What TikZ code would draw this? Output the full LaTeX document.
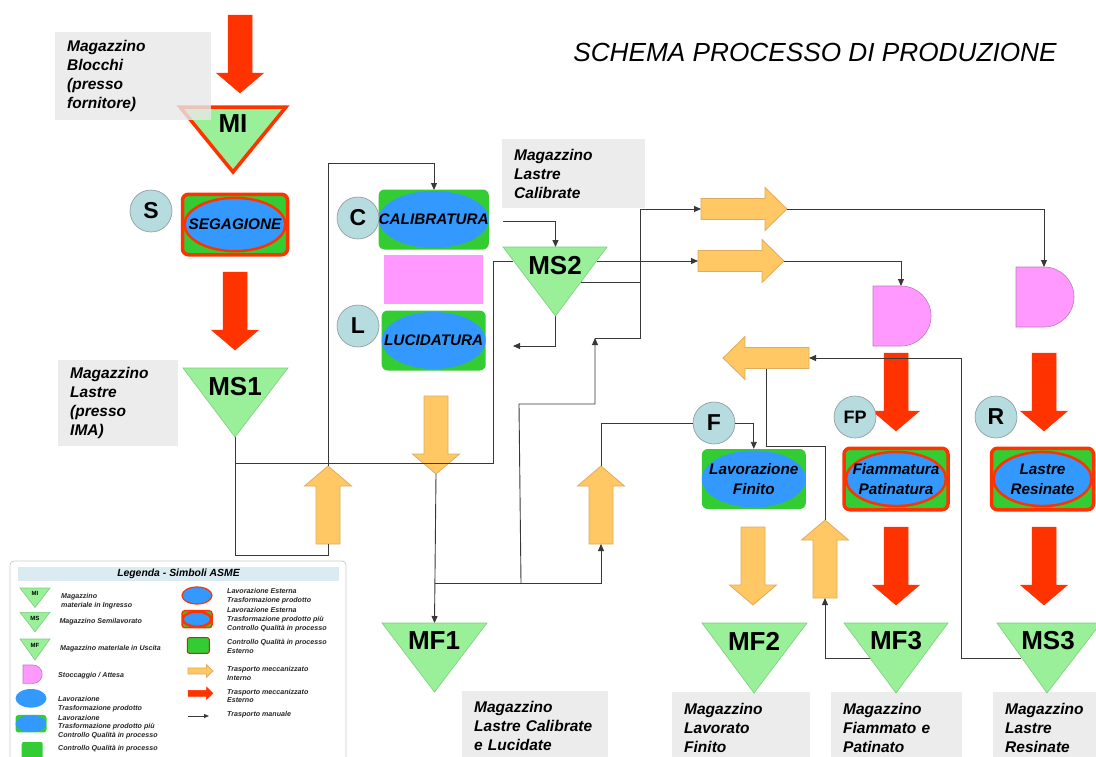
\documentclass[tikz,border=0pt]{standalone}
\usepackage{fontspec}
\setmainfont{Liberation Sans}
\usetikzlibrary{arrows.meta,calc}
\definecolor{extred}{RGB}{255,51,0}
\definecolor{qcgreen}{RGB}{51,204,51}
\definecolor{procblue}{RGB}{51,153,255}
\definecolor{trigreen}{RGB}{153,240,153}
\definecolor{triedge}{RGB}{125,205,125}
\definecolor{stockpink}{RGB}{255,153,255}
\definecolor{stockedge}{RGB}{190,120,190}
\definecolor{intorange}{RGB}{255,200,100}
\definecolor{intedge}{RGB}{222,172,92}
\definecolor{circfill}{RGB}{182,220,224}
\definecolor{circedge}{RGB}{140,150,152}
\definecolor{lblgray}{RGB}{232,232,232}
\definecolor{legbar}{RGB}{218,236,242}
\newcommand{\lblfont}{\fontsize{15.5}{19}\selectfont\bfseries\itshape}
\newcommand{\procfont}{\fontsize{15.3}{20}\selectfont\bfseries\itshape}
\newcommand{\trifont}{\fontsize{26}{28}\selectfont\bfseries}
\newcommand{\circfont}{\fontsize{23}{25}\selectfont\bfseries}
\newcommand{\legfont}{\fontsize{7.1}{8.7}\selectfont\bfseries\itshape}

% block arrows for the mechanised transports
\tikzset{
  vblock/.pic={
    \filldraw[pic actions] (-12,0) -- (12,0) -- (12,58) -- (23.5,58) -- (0,78) -- (-23.5,58) -- (-12,58) -- cycle;
    \coordinate (-tail) at (0,0);
    \coordinate (-tip) at (0,78);
  },
  hblock/.pic={
    \filldraw[pic actions] (0,-10.5) -- (64,-10.5) -- (64,-21.5) -- (86,0) -- (64,21.5) -- (64,10.5) -- (0,10.5) -- cycle;
    \coordinate (-tail) at (0,0);
    \coordinate (-tip) at (86,0);
  }
}

\begin{document}
\begin{tikzpicture}[x=1pt, y=-1pt,
    lbl/.style={fill=lblgray, fill opacity=0.8, text opacity=1, font=\lblfont, align=left, anchor=north west, inner xsep=12pt, inner ysep=0pt},
    tri/.style={fill=trigreen, draw=triedge, line width=0.6pt},
    trilbl/.style={font=\trifont, inner sep=0pt},
    stock/.style={fill=stockpink, draw=stockedge, line width=0.6pt},
    procbox/.style={rounded corners=6pt, fill=qcgreen, minimum width=104pt, minimum height=60pt, inner sep=0pt, align=center, font=\procfont,
      path picture={\fill[procblue] let \p1=($(path picture bounding box.north east)-(path picture bounding box.center)$) in
        (path picture bounding box.center) ellipse [x radius=\x1, y radius=0.95*\y1];}},
    extbox/.style={procbox, draw=extred, line width=3.5pt,
      path picture={\filldraw[fill=procblue, draw=extred, line width=2.5pt] let \p1=($(path picture bounding box.north east)-(path picture bounding box.center)$) in
        (path picture bounding box.center) ellipse [x radius=0.96*\x1, y radius=0.88*\y1];}},
    circ/.style={circle, draw=circedge, fill=circfill, line width=0.6pt, minimum size=42pt, inner sep=0pt, font=\circfont},
    intarrow/.style={fill=intorange, draw=intedge, line width=0.8pt},
    extarrow/.style={fill=extred, draw=extred, line width=0.5pt},
    conn/.style={draw=black!78, line width=0.9pt},
    arr/.style={conn, -{Triangle[length=7pt,width=6pt]}},
    legtxt/.style={font=\legfont, text=black!85, align=left, anchor=west, inner sep=0pt}
]
    \fill[white] (0,0) rectangle (1096,756);
    \useasboundingbox (0,0) rectangle (1096,756);

    % gray captions of the stores
    \node[lbl, text width=119pt, minimum height=69pt] (capCalib) at (502,139) {Magazzino\\Lastre\\Calibrate};
    \node[lbl, text width=96pt, minimum height=86pt] (capIma) at (58,360) {Magazzino\\Lastre\\(presso\\IMA)};
    \node[lbl, text width=122pt, minimum height=70pt] (capLucid) at (462,691) {Magazzino\\Lastre Calibrate\\e Lucidate};
    \node[lbl, text width=114pt, minimum height=72pt] (capFinito) at (672,692) {Magazzino\\Lavorato\\Finito};
    \node[lbl, text width=107pt, minimum height=72pt] (capFiamm) at (831,692) {Magazzino\\Fiammato e\\Patinato};
    \node[lbl, text width=86pt, minimum height=72pt] (capResin) at (993,692) {Magazzino\\Lastre\\Resinate};

    % junctions and free ends
    \coordinate (MS1-apex) at (235,437);
    \coordinate (MS2-top) at (555.5,247);
    \coordinate (MS2-w) at (513,261);
    \coordinate (MS2-e) at (597,261);
    \coordinate (MS2-se) at (581,282);
    \coordinate (MS2-apex) at (555.5,316);
    \coordinate (MF1-top) at (434.5,623);
    \coordinate (MF3-w) at (871,658);
    \coordinate (MS3-w) at (1021,658);
    \coordinate (D1-top) at (901,286);
    \coordinate (D2-top) at (1044,267);
    \coordinate (j1) at (235,463);
    \coordinate (j2) at (435,583);
    \coordinate (j3) at (521,583);
    \coordinate (ret2) at (595,338);
    \coordinate (lucIn) at (513,346);
    \coordinate (leftA-foot) at (766,369);

    % block arrows
    \pic[extarrow] (redA) at (240,15) {vblock};
    \pic[extarrow] (redB) at (235,272) {vblock};
    \pic[extarrow] (redC) at (896,353) {vblock};
    \pic[extarrow] (redD) at (1044,353) {vblock};
    \pic[extarrow] (redE) at (896,527) {vblock};
    \pic[extarrow] (redF) at (1044,527) {vblock};
    \pic[intarrow] (downA) at (436,396) {vblock};
    \pic[intarrow] (downB) at (753,527) {vblock};
    \pic[intarrow, rotate=180] (upA) at (328,544) {vblock};
    \pic[intarrow, rotate=180] (upB) at (601,544) {vblock};
    \pic[intarrow, rotate=180] (upC) at (825,598) {vblock};
    \pic[intarrow] (orR1) at (701,209) {hblock};
    \pic[intarrow] (orR2) at (698,261) {hblock};
    \pic[intarrow, rotate=180] (leftA) at (809,358) {hblock};

    % manual transports
    \draw[conn] (MS1-apex) -- (235,555) -| (upA-tail);
    \draw[arr] (upA-tip) -- (328,163) -| (434,190);
    \draw[conn] (j1) -- (493,463) -- (493,261) -- (MS2-w);
    \draw[arr] (503,221) -| (MS2-top);
    \draw[arr] (MS2-apex) |- (lucIn);
    \draw[arr] (MS2-e) -- (orR2-tail);
    \draw[conn] (MS2-se) -- (640,282);
    \draw[arr] (ret2) -| (640,209) -- (orR1-tail);
    \draw[arr] (j3) -- (519,404) -- (595,404) -- (ret2);
    \draw[arr] (downA-tip) -- (MF1-top);
    \draw[arr] (j2) -| (upB-tail);
    \draw[arr] (orR1-tip) -| (D2-top);
    \draw[arr] (orR2-tip) -| (D1-top);
    \draw[arr] (MS3-w) -| (961,358) -- (leftA-tail);
    \draw[conn] (leftA-foot) |- (825,446) -- (upC-tip);
    \draw[arr] (MF3-w) -| (upC-tail);

    % stores
    \filldraw[tri, draw=extred, line width=3.5pt] (180,107) -- (286,107) -- (233,172) -- cycle;
    \node[trilbl] (MI) at (233,124) {MI};
    \filldraw[tri] (183,368) -- (288,368) -- (235,437) -- cycle;
    \node[trilbl] (MS1) at (235,387) {MS1};
    \filldraw[tri] (503,247) -- (607,247) -- (555.5,316) -- cycle;
    \node[trilbl] (MS2) at (555,266) {MS2};
    \filldraw[tri] (382,623) -- (487,623) -- (434.5,692) -- cycle;
    \node[trilbl] (MF1) at (434,641) {MF1};
    \filldraw[tri] (702,623) -- (807,623) -- (754,693) -- cycle;
    \node[trilbl] (MF2) at (754,641) {MF2};
    \filldraw[tri] (844,623) -- (948,623) -- (896,693) -- cycle;
    \node[trilbl] (MF3) at (896,641) {MF3};
    \filldraw[tri] (997,623) -- (1101,623) -- (1047,693) -- cycle;
    \node[trilbl] (MS3) at (1048,641) {MS3};
    \node[lbl, text width=132pt, minimum height=88pt] (capBlocchi) at (55,32) {Magazzino\\Blocchi\\(presso\\fornitore)};

    % waiting areas
    \filldraw[stock] (873,286) -- (D1-top) arc[start angle=-90, end angle=90, radius=30] -- (873,346) -- cycle;
    \filldraw[stock] (1016,267) -- (D2-top) arc[start angle=-90, end angle=90, radius=30] -- (1016,327) -- cycle;

    % processing steps
    \node[extbox, minimum width=105pt, minimum height=60.5pt] (SEG) at (235,224.5) {SEGAGIONE};
    \node[procbox] (CAL) at (433.7,219.5) {CALIBRATURA};
    \node[fill=stockpink, minimum width=98.7pt, minimum height=49.3pt, inner sep=0pt] (pinkPad) at (433.3,279.7) {};
    \node[procbox] (LUC) at (433.7,340.5) {LUCIDATURA};
    \node[procbox] (LF) at (753.8,479) {Lavorazione\\Finito};
    \node[extbox, minimum width=104pt, minimum height=61.5pt] (FIAM) at (896,479) {Fiammatura\\Patinatura};
    \node[extbox, minimum width=102pt, minimum height=61.5pt] (RES) at (1042.5,479) {Lastre\\Resinate};

    \node[circ] (S) at (151,211) {S};
    \node[circ] (C) at (358,218) {C};
    \node[circ] (L) at (358,326) {L};
    \node[circ] (F) at (714,423) {F};
    \node[circ, font=\fontsize{18}{20}\selectfont\bfseries] (FP) at (855,417) {FP};
    \node[circ] (R) at (996,417) {R};
    \draw[conn] (upB-tip) |- (F.west);
    \draw[arr] (F.east) -| (LF.north);

    \node[font=\fontsize{26.2}{30}\selectfont\itshape] (title) at (815,52) {SCHEMA PROCESSO DI PRODUZIONE};

    % legend
    \draw[draw=black!20, fill=white, rounded corners=4pt, line width=0.8pt] (10,561) rectangle (346,775);
    \node[fill=legbar, minimum width=321pt, minimum height=14.5pt, inner sep=0pt, font=\fontsize{10.4}{12}\selectfont\bfseries\itshape] (legTitle) at (178.5,574) {Legenda - Simboli ASME};
    \filldraw[tri] (20,588) -- (50,588) -- (35,607.5) -- cycle;
    \node[font=\fontsize{6}{7}\selectfont\bfseries, inner sep=0pt] (legMI) at (35,593.5) {MI};
    \filldraw[tri] (20,612.3) -- (50,612.3) -- (35,631.7) -- cycle;
    \node[font=\fontsize{6}{7}\selectfont\bfseries, inner sep=0pt] (legMS) at (35,618) {MS};
    \filldraw[tri] (20,639) -- (50,639) -- (35,660) -- cycle;
    \node[font=\fontsize{6}{7}\selectfont\bfseries, inner sep=0pt] (legMF) at (35,645) {MF};
    \filldraw[stock] (23,665) -- (33,665) arc[start angle=-90, end angle=90, radius=9.2] -- (23,683.4) -- cycle;
    \fill[procblue] (31,698.3) ellipse [x radius=15.5, y radius=9.3];
    \node[procbox, rounded corners=3pt, minimum width=31pt, minimum height=17.5pt] (legProc) at (31,723.7) {};
    \node[fill=qcgreen, rounded corners=2pt, minimum width=21pt, minimum height=20pt, inner sep=0pt] (legQc) at (32.2,752) {};
    \filldraw[fill=procblue, draw=extred, line width=1.2pt] (197,595.5) ellipse [x radius=15, y radius=8.5];
    \node[extbox, rounded corners=3pt, line width=1.5pt, minimum width=30pt, minimum height=17pt] (legExt) at (197,619.2) {};
    \node[fill=qcgreen, draw=extred!80!black, line width=1pt, rounded corners=2pt, minimum width=22pt, minimum height=15.6pt, inner sep=0pt] (legQcExt) at (198.3,645.5) {};
    \pic[intarrow, scale=0.29] (legInt) at (188,671) {hblock};
    \pic[extarrow, scale=0.29] (legExtA) at (188,693.3) {hblock};
    \coordinate (legManA) at (188,716);
    \coordinate (legManB) at (209,716);
    \draw[conn, -{Triangle[length=5pt,width=4pt]}] (legManA) -- (legManB);

    \node[legtxt] (legt1) at (61,601.2) {Magazzino\\materiale in Ingresso};
    \node[legtxt] (legt2) at (59.3,621.7) {Magazzino Semilavorato};
    \node[legtxt] (legt3) at (60,649) {Magazzino materiale in Uscita};
    \node[legtxt] (legt4) at (58,675.7) {Stoccaggio / Attesa};
    \node[legtxt] (legt5) at (58,704.2) {Lavorazione\\Trasformazione prodotto};
    \node[legtxt] (legt6) at (58,727) {Lavorazione\\Trasformazione prodotto più\\Controllo Qualità in processo};
    \node[legtxt] (legt7) at (58,749) {Controllo Qualità in processo};
    \node[legtxt] (legt8) at (227,595.9) {Lavorazione Esterna\\Trasformazione prodotto};
    \node[legtxt] (legt9) at (227,619.8) {Lavorazione Esterna\\Trasformazione prodotto più\\Controllo Qualità in processo};
    \node[legtxt] (legt10) at (227,646.7) {Controllo Qualità in processo\\Esterno};
    \node[legtxt] (legt11) at (227,673.3) {Trasporto meccanizzato\\Interno};
    \node[legtxt] (legt12) at (227,695.9) {Trasporto meccanizzato\\Esterno};
    \node[legtxt] (legt13) at (227,714.3) {Trasporto manuale};
\end{tikzpicture}
\end{document}
